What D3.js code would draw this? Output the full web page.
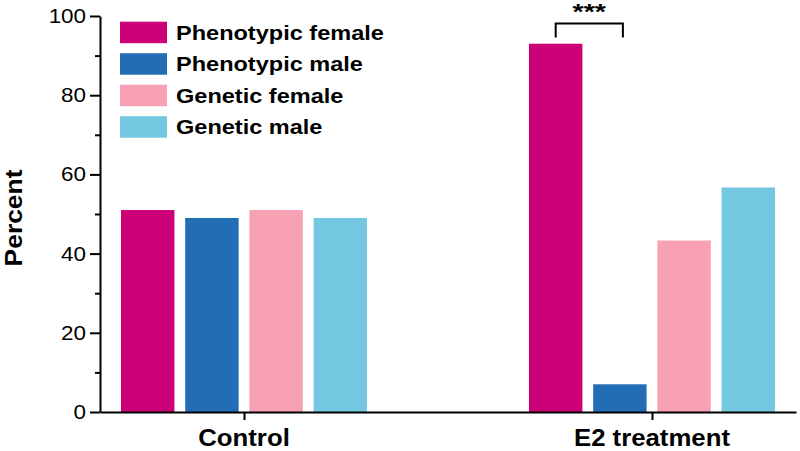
<!DOCTYPE html>
<html>
<head>
<meta charset="utf-8">
<script src="https://cdn.jsdelivr.net/npm/d3@7"></script>
<style>
  body { margin: 0; background: #fff; }
  svg text { font-family: "Liberation Sans", Arial, sans-serif; fill: #000; }
</style>
</head>
<body>
<script>
  // chart data
  let groups = ["Control", "E2 treatment"];
  let seriesNames = ["Phenotypic female", "Phenotypic male", "Genetic female", "Genetic male"];
  let seriesColors = ["#cc0077", "#236db4", "#f8a0b4", "#74c7e0"];
  let controlValues = [51, 49, 51, 49];
  let e2Values = [93, 7, 43.3, 56.7];
  let yTicks = [0, 20, 40, 60, 80, 100];
  let yMinorTicks = [10, 30, 50, 70, 90];

  let width = 800, height = 451;
  let svg = d3.select("body").append("svg")
    .attr("width", width)
    .attr("height", height);

  // widen text a bit, the source font runs wider than Arial
  function stretch(sel, k) {
    sel.each(function() {
      let w = this.getComputedTextLength();
      d3.select(this).attr("textLength", w * k).attr("lengthAdjust", "spacingAndGlyphs");
    });
  }

  let values = [controlValues, e2Values];

  let x0 = d3.scalePoint()
    .domain(groups)
    .range([100, 796])
    .padding(0.353);

  let x1 = d3.scaleBand()
    .domain(seriesNames)
    .range([-123, 123])
    .paddingInner(0.168);

  let y = d3.scaleLinear()
    .domain([0, 100])
    .range([412, 16]);

  // bars
  groups.forEach(function(g, gi) {
    svg.append("g")
      .attr("transform", "translate(" + x0(g) + ",0)")
      .selectAll("rect")
      .data(values[gi])
      .enter()
      .append("rect")
        .attr("x", (d, i) => x1(seriesNames[i]))
        .attr("y", (d) => y(d))
        .attr("width", x1.bandwidth())
        .attr("height", (d) => y(0) - y(d))
        .attr("fill", (d, i) => seriesColors[i]);
  });

  // y axis, minor ticks first
  svg.append("g")
    .attr("transform", "translate(100,0)")
    .call(d3.axisLeft(y).tickValues(yMinorTicks).tickSize(5).tickFormat(""))
    .call((g) => g.select(".domain").remove())
    .selectAll("line").attr("stroke-width", 2);

  let yAxis = svg.append("g")
    .attr("transform", "translate(100,0)")
    .call(d3.axisLeft(y).tickValues(yTicks).tickSize(10).tickSizeOuter(0).tickPadding(4));
  yAxis.select(".domain").attr("stroke-width", 2);
  yAxis.selectAll("line").attr("stroke-width", 2);
  yAxis.selectAll("text")
    .attr("font-size", 20)
    .attr("font-family", "Liberation Sans, Arial, sans-serif")
    .call(stretch, 1.12);

  // x axis
  let xAxis = svg.append("g")
    .attr("transform", "translate(0," + y(0) + ")")
    .call(d3.axisBottom(x0).tickSize(8).tickSizeOuter(0).tickFormat(""));
  xAxis.select(".domain").attr("stroke-width", 2);
  xAxis.selectAll("line").attr("stroke-width", 2);

  svg.selectAll(".cat")
    .data(groups)
    .enter()
    .append("text")
      .attr("class", "cat")
      .attr("x", (d) => x0(d))
      .attr("y", 446)
      .attr("text-anchor", "middle")
      .attr("font-size", 23)
      .attr("font-weight", "bold")
      .text((d) => d)
      .call(stretch, 1.12);

  // y label
  svg.append("text")
    .attr("transform", "translate(22," + y(49) + ")rotate(-90)")
    .attr("text-anchor", "middle")
    .attr("font-size", 24)
    .attr("font-weight", "bold")
    .text("Percent")
    .call(stretch, 1.1);

  // significance bracket between the E2 phenotypic bars
  let bx1 = x0(groups[1]) + x1(seriesNames[0]) + x1.bandwidth() / 2;
  let bx2 = x0(groups[1]) + x1(seriesNames[1]) + x1.bandwidth() / 2 + 3;
  svg.append("path")
    .attr("d", "M" + bx1 + "," + 37.5 + "V" + 23.5 + "H" + bx2 + "V" + 37.5)
    .attr("fill", "none")
    .attr("stroke", "#000")
    .attr("stroke-width", 2);
  svg.append("text")
    .attr("x", (bx1 + bx2) / 2)
    .attr("y", 19)
    .attr("text-anchor", "middle")
    .attr("font-size", 22)
    .attr("font-weight", "bold")
    .text("***")
    .call(stretch, 1.3);

  // legend
  let legend = svg.selectAll(".legend")
    .data(seriesNames)
    .enter()
    .append("g")
      .attr("class", "legend")
      .attr("transform", (d, i) => "translate(120," + (21.7 + i * 31.5) + ")");

  legend.append("rect")
    .attr("width", 47)
    .attr("height", 21.5)
    .attr("fill", (d, i) => seriesColors[i]);

  legend.append("text")
    .attr("x", 56)
    .attr("y", 18)
    .attr("font-size", 21)
    .attr("font-weight", "bold")
    .text((d) => d)
    .call(stretch, 1.12);
</script>
</body>
</html>
